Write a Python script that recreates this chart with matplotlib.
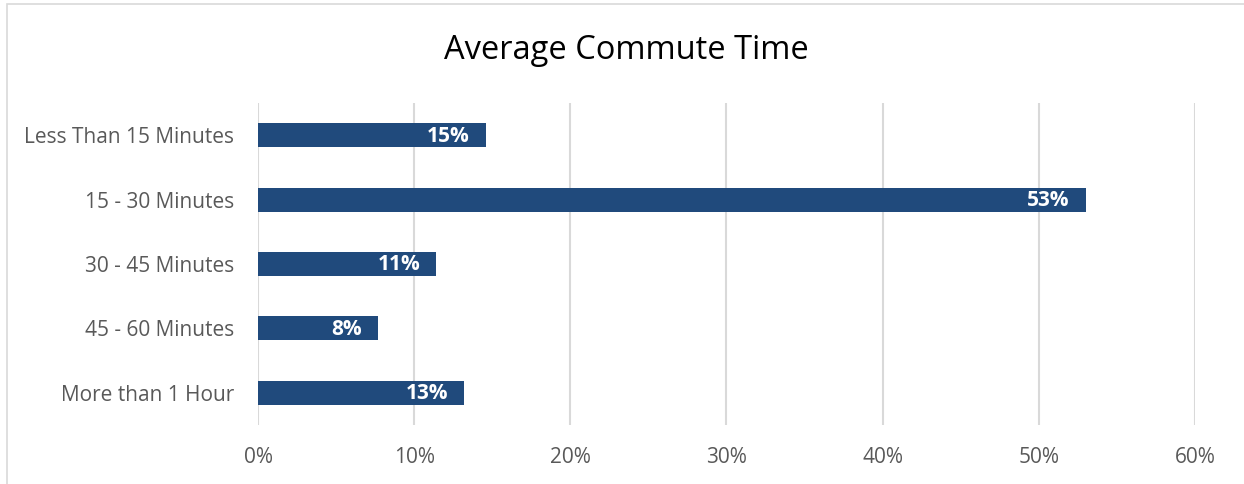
import matplotlib.pyplot as plt
from matplotlib.patches import Rectangle
from matplotlib.ticker import FuncFormatter

# Commute time survey results (share of respondents, %)
categories = ['Less Than 15 Minutes', '15 - 30 Minutes', '30 - 45 Minutes',
              '45 - 60 Minutes', 'More than 1 Hour']
shares = [14.6, 53.0, 11.4, 7.7, 13.2]

plt.rcParams['font.family'] = ['Open Sans', 'DejaVu Sans']

fig = plt.figure(figsize=(12.44, 4.84), dpi=100)
ax = fig.add_axes([0.2074, 0.1219, 0.7532, 0.6653])

# outer chart border (runs off the right and bottom edges)
fig.patches.append(Rectangle((7 / 1244, -0.1), 1.2, 1 - 4 / 484 + 0.1,
                             transform=fig.transFigure, fill=False,
                             edgecolor='#D9D9D9', linewidth=1.2))

ypos = list(range(len(categories)))
ax.barh(ypos, shares, height=0.37, color='#204A7C', zorder=3)

for y, v in zip(ypos, shares):
    ax.annotate(f'{v:.0f}%', xy=(v, y), xytext=(-16, -1),
                textcoords='offset pixels',
                ha='right', va='center', color='white',
                fontweight='bold', fontsize=15, zorder=4)

ax.set_xlim(0, 60)
ax.set_ylim(len(categories) - 0.5, -0.5)
ax.set_xticks(range(0, 61, 10))
ax.xaxis.set_major_formatter(FuncFormatter(lambda x, _: f'{x:.0f}%'))
ax.set_yticks(ypos)
ax.set_yticklabels(categories)

ax.grid(axis='x', color='#D9D9D9', linewidth=1.5, zorder=0)
ax.tick_params(axis='both', length=0, labelsize=15, labelcolor='#595959')
ax.tick_params(axis='x', pad=16)
ax.tick_params(axis='y', pad=17)
for s in ax.spines.values():
    s.set_visible(False)

fig.text(0.5035, 0.895, 'Average Commute Time', ha='center', va='center',
         fontsize=23.5, color='black')

fig.savefig('out.png', dpi=100)
